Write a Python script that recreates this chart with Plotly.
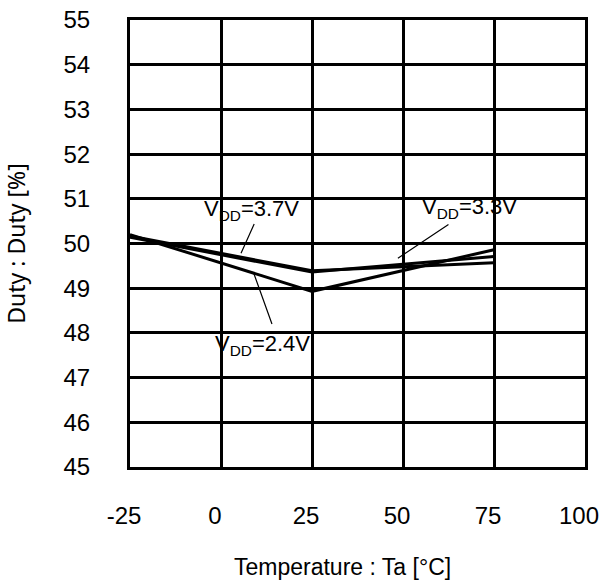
import plotly.graph_objects as go

# ---- data ----
temperature = [-25, 25, 75]
duty_24v = [50.20, 48.93, 49.86]
duty_33v = [50.14, 49.36, 49.71]
duty_37v = [50.17, 49.39, 49.57]

x_ticks = [-25, 0, 25, 50, 75, 100]
y_ticks = [45, 46, 47, 48, 49, 50, 51, 52, 53, 54, 55]

series = [("V<sub>DD</sub>=2.4V", duty_24v),
          ("V<sub>DD</sub>=3.3V", duty_33v),
          ("V<sub>DD</sub>=3.7V", duty_37v)]

fig = go.Figure()
for name, vals in series:
    fig.add_trace(go.Scatter(x=temperature, y=vals, mode="lines", name=name,
                             line=dict(color="black", width=3), showlegend=False,
                             hoverinfo="skip"))

TXT = dict(family="Liberation Sans, Arial, sans-serif", size=22, color="black")

# labels (text) and pointer lines
labels = [
    ("V<sub>DD</sub>=3.7V", 8.5, 50.74),
    ("V<sub>DD</sub>=3.3V", 68.4, 50.79),
    ("V<sub>DD</sub>=2.4V", 11.5, 47.73),
]
for t, x, y in labels:
    fig.add_annotation(x=x, y=y, xref="x", yref="y", text=t, showarrow=False,
                       font=TXT, xanchor="center", yanchor="middle")

pointers = [
    ((9.3, 50.47), (5.5, 49.78)),
    ((62.9, 50.45), (48.6, 49.67)),
    ((8.8, 49.38), (14.0, 48.20)),
]
for (tx, ty), (hx, hy) in pointers:
    fig.add_annotation(x=hx, y=hy, ax=tx, ay=ty, xref="x", yref="y",
                       axref="x", ayref="y", text="", showarrow=True,
                       arrowhead=0, arrowwidth=1.2, arrowcolor="black")

# x-axis title as paper annotation (slightly left of centre in the reference)
fig.add_annotation(x=0.466, y=-0.2246, xref="paper", yref="paper",
                   text="Temperature : Ta [°C]", showarrow=False,
                   xanchor="center", yanchor="middle",
                   font=dict(family="Liberation Sans, Arial, sans-serif", size=23, color="black"))

axis_common = dict(showgrid=True, gridcolor="black", gridwidth=3,
                   showline=True, linecolor="black", linewidth=3, mirror=True,
                   zeroline=False, ticks="", ticklabeloverflow="allow",
                   tickfont=dict(family="Liberation Sans, Arial, sans-serif", size=24, color="black"))

fig.update_layout(
    width=601, height=585,
    margin=dict(l=130, r=16, t=20, b=118),
    paper_bgcolor="white", plot_bgcolor="white",
    xaxis=dict(range=[-25, 100], tickvals=x_ticks, ticktext=[str(v) for v in x_ticks],
               ticklabelstandoff=25, ticklabelshift=-6,
               automargin=False, **axis_common),
    yaxis=dict(range=[45, 55], tickvals=y_ticks, ticktext=[str(v) for v in y_ticks],
               ticklabelstandoff=32,
               title=dict(text="Duty : Duty [%]", standoff=48,
                          font=dict(family="Noto Sans, Open Sans, sans-serif", size=23, color="black")),
               automargin=False, **axis_common),
)

fig.write_html("out.html", config={"displayModeBar": False},
               post_script="document.body.style.margin='0';")
